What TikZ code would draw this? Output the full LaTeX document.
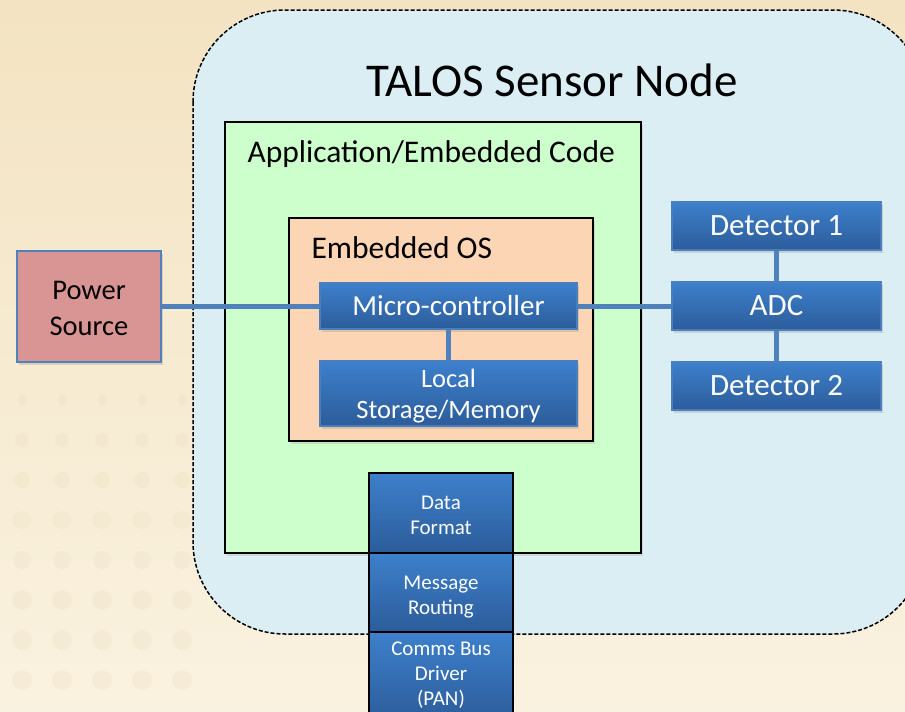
\documentclass[tikz,border=0pt]{standalone}
\usepackage{fontspec}
\setmainfont{Carlito}
\usetikzlibrary{shadows,calc}
\definecolor{bgbeige}{HTML}{F3E3C2}
\definecolor{bglight}{HTML}{FAF2E0}
\definecolor{outerfill}{HTML}{DAEEF3}
\definecolor{greenfill}{HTML}{CCFFCC}
\definecolor{orangefill}{HTML}{FCD5B5}
\definecolor{powerfill}{HTML}{D99594}
\definecolor{linkblue}{HTML}{4F81BD}
\definecolor{bluetop}{HTML}{3D80CC}
\definecolor{bluebot}{HTML}{2C5C9A}
\definecolor{blueedge}{HTML}{4A7EBF}
\definecolor{dotcol}{HTML}{E2D3B3}
\pgfdeclarelayer{backlayer}
\pgfdeclarelayer{connlayer}
\pgfsetlayers{backlayer,connlayer,main}
\tikzset{
  fsz/.style 2 args={font=\fontsize{#1}{#2}\selectfont},
  bluebox/.style={rectangle, inner sep=0pt, top color=bluetop, bottom color=bluebot,
     draw=blueedge, line width=1.5pt, text=white, align=center,
     drop shadow={opacity=0.25, shadow xshift=2pt, shadow yshift=-3pt}},
  stackbox/.style={rectangle, inner sep=0pt, top color=bluetop, bottom color=bluebot,
     draw=black, line width=2.2pt, minimum width=144pt, minimum height=79pt},
  stacktext/.style={text=white, align=center, fsz={21}{25}, inner sep=0pt},
  conn/.style={draw=linkblue, line width=5pt},
  areabox/.style={rectangle, draw=black, line width=2pt, inner sep=0pt,
     drop shadow={opacity=0.2, shadow xshift=2pt, shadow yshift=-3pt}},
}
\begin{document}
\begin{tikzpicture}[x=1pt,y=-1pt]
\useasboundingbox (0,0) rectangle (905,712);
\begin{pgfonlayer}{backlayer}
\shade[top color=bgbeige, bottom color=bglight] (0,0) rectangle (905,712);
\foreach \yy/\rr in {400/5,440/7,480/8,520/9,560/9,600/10,640/10,680/10} {
  \foreach \xx in {22,62,102,142,182} {
    \fill[dotcol, opacity=0.18] (\xx,\yy) circle (\rr pt);
  }
}
\path[draw=black, dash pattern=on 4pt off 2pt, line width=1.5pt, fill=outerfill, rounded corners=92pt]
  (193,10) rectangle (925,634);
\node[areabox, fill=greenfill, minimum width=416pt, minimum height=431pt] (app) at (433,337.5) {};
\node[areabox, fill=orangefill, minimum width=304pt, minimum height=223pt] (os) at (441,329.5) {};
\end{pgfonlayer}
\node[fsz={47}{56}, anchor=center] (title) at (552,80) {TALOS Sensor Node};
\node[fsz={31.5}{38}, anchor=west] (applbl) at (244,154) {Application/Embedded Code};
\node[fsz={31.5}{38}, anchor=west] (oslbl) at (308,248) {Embedded OS};
% power source
\node[rectangle, fill=powerfill, draw=linkblue, line width=2pt, minimum width=144pt,
  minimum height=111pt, inner sep=0pt,
  drop shadow={opacity=0.25, shadow xshift=2pt, shadow yshift=-3pt}] (ps) at (89,306) {};
\node[align=center, fsz={28.5}{36}, inner sep=0pt] (pstxt) at ($(ps.center)+(0,2)$) {Power\\Source};
% micro-controller and storage
\node[bluebox, minimum width=257pt, minimum height=46pt, fsz={29}{35}] (mc) at (448.5,306) {Micro-controller};
\node[bluebox, minimum width=257pt, minimum height=65pt] (mem) at (448.5,393.5) {};
\node[text=white, align=center, fsz={26.5}{31}, inner sep=0pt] (memtxt) at ($(mem.center)+(0,3)$)
  {Local\\Storage/Memory};
% ADC and detectors
\node[bluebox, minimum width=209pt, minimum height=48pt, fsz={31}{37}] (det1) at (776.5,226) {Detector 1};
\node[bluebox, minimum width=209pt, minimum height=48pt, fsz={31}{37}] (adc) at (776.5,306) {ADC};
\node[bluebox, minimum width=209pt, minimum height=48pt, fsz={31}{37}] (det2) at (776.5,386) {Detector 2};
% connectors
\begin{pgfonlayer}{connlayer}
\draw[conn] (ps.east) -- (mc.west);
\draw[conn] (mc.east) -- (adc.west);
\draw[conn] (mc.south) -- (mem.north);
\draw[conn] (det1.south) -- (adc.north);
\draw[conn] (adc.south) -- (det2.north);
\end{pgfonlayer}
% comm stack
\node[stackbox, minimum height=80pt] (df) at (441,513) {};
\node[stackbox] (mr) at (441,592.5) {};
\node[stackbox, minimum height=90pt] (cb) at (441,677) {};
\node[stacktext] (dftxt) at ($(df.center)+(0,2)$) {Data\\Format};
\node[stacktext] (mrtxt) at ($(mr.center)+(0,5)$) {Message\\Routing};
\node[stacktext] (cbtxt) at ($(cb.center)+(0,-2)$) {Comms Bus\\Driver\\(PAN)};
\end{tikzpicture}
\end{document}
